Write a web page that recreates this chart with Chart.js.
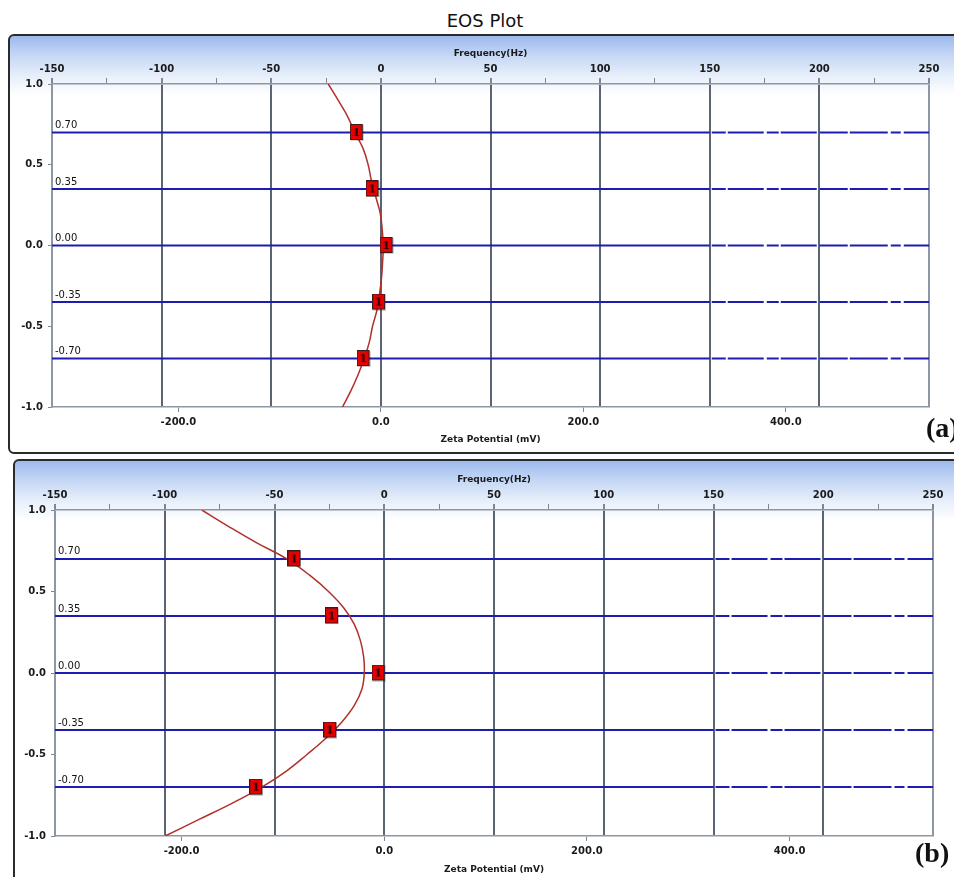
<!DOCTYPE html>
<html>
<head>
<meta charset="utf-8">
<script src="https://cdn.jsdelivr.net/npm/chart.js@4.4.0/dist/chart.umd.min.js"></script>
<style>
  html, body { margin: 0; padding: 0; background: #fff; }
  body { width: 954px; height: 877px; overflow: hidden; position: relative; font-family: "DejaVu Sans", Verdana, sans-serif; }
  .panel { position: absolute; box-sizing: border-box; border: 2px solid #2b2b2b; border-radius: 6px;
           background: linear-gradient(to bottom, #9cbaee 0px, #c6d8f5 20px, #eaf1fb 42px, #ffffff 60px); }
  #panelA { left: 8px; top: 34px; width: 970px; height: 420px; }
  #panelB { left: 13px; top: 459px; width: 970px; height: 440px; }
  canvas { position: absolute; left: 0; }
  #chartA { top: 0; }
  #chartB { top: 456px; }
  #title { position: absolute; top: 10px; left: 0; width: 970px; text-align: center; font-size: 18px; color: #111; }
  .tag { position: absolute; font-family: "Liberation Serif", "Times New Roman", serif; font-weight: bold;
         font-size: 28px; line-height: 28px; color: #111; white-space: nowrap; }
</style>
</head>
<body>
<div class="panel" id="panelA"></div>
<div class="panel" id="panelB"></div>
<div id="title">EOS Plot</div>
<canvas id="chartA" width="954" height="456"></canvas>
<canvas id="chartB" width="954" height="421"></canvas>
<div class="tag" style="left:926px; top:414px;">(a)</div>
<div class="tag" style="left:915px; top:839px;">(b)</div>
<script>
// Frequency axis (top) and the matching zeta-potential axis (bottom)
const FREQ_MIN = -150;
const FREQ_MAX = 250;
const FREQ_STEP = 25;
const FREQ_MAJOR = 50;
const MV_PER_HZ = 2.166;
const ZETA_TICKS = [-200, 0, 200, 400];
const DEPTH_MIN = -1;
const DEPTH_MAX = 1;
const DEPTH_STEP = 0.5;
// beyond this frequency the reference lines are drawn broken
const DASH_FROM_HZ = 150;
const BROKEN_PATTERN = [0, 2, 14, 2, 36, 3, 12, 2, 36, 3, 28, 2, 38, 3, 10, 3, 40];

// Measurement levels (horizontal reference lines)
const LEVELS = [0.70, 0.35, 0.00, -0.35, -0.70];

// Measured points, one per level
const MARKS_A_HZ = [-11.0, -3.8, 2.6, -0.8, -7.9];
const MARKS_B_HZ = [-40.9, -23.8, -2.6, -24.6, -58.3];

// Fitted profile, sampled along the depth axis
const CURVE_DEPTH = [1.0, 0.9, 0.8, 0.7, 0.6, 0.5, 0.4, 0.3, 0.2, 0.1, 0.0,
                     -0.1, -0.2, -0.3, -0.4, -0.5, -0.6, -0.7, -0.8, -0.9, -1.0];
const CURVE_A_HZ = [-24.0, -19.5, -15.2, -11.9, -8.1, -5.8, -4.3, -2.3, -0.3, 0.6, 1.1,
                    0.8, 0.3, -0.6, -1.8, -3.8, -5.3, -7.6, -10.4, -13.7, -17.5];
const CURVE_B_HZ = [-83.1, -71.0, -58.3, -44.4, -34.0, -25.4, -18.5, -13.7, -10.9, -9.4, -9.1,
                    -10.2, -13.7, -19.3, -26.6, -35.2, -44.4, -55.8, -69.4, -84.6, -99.8];

const EDGE = '#8d97a3';
const GRID = '#5a6472';
const TICK_MARK = '#7d8794';
const TEXT = '#1a1a1a';
const TICK_FONT = { family: '"DejaVu Sans", Verdana, sans-serif', size: 10, weight: 'bold' };
const AXIS_TITLE_FONT = { family: '"DejaVu Sans", Verdana, sans-serif', size: 9, weight: 'bold' };

// red square point marker labelled "1"
function markerImage() {
  const c = document.createElement('canvas');
  c.width = 14; c.height = 17;
  const g = c.getContext('2d');
  g.fillStyle = 'rgba(0,0,0,0.18)';
  g.fillRect(1, 1, 13, 16);
  g.fillStyle = '#e80000';
  g.fillRect(0.5, 0.5, 12, 15);
  g.strokeStyle = '#3a1a1a';
  g.lineWidth = 1;
  g.strokeRect(0.5, 0.5, 12, 15);
  g.fillStyle = '#1a0000';
  g.font = 'bold 11px "DejaVu Serif", "Liberation Serif", serif';
  g.textAlign = 'center';
  g.textBaseline = 'middle';
  g.fillText('1', 6.5, 9);
  return c;
}
const MARK = markerImage();

// text labels sitting above each reference line
const levelLabels = {
  id: 'levelLabels',
  afterDatasetsDraw(chart) {
    const { ctx, chartArea, scales } = chart;
    ctx.save();
    ctx.font = '10px "DejaVu Sans", Verdana, sans-serif';
    ctx.fillStyle = '#111';
    ctx.textAlign = 'left';
    ctx.textBaseline = 'bottom';
    LEVELS.forEach(v => {
      ctx.fillText(v.toFixed(2), chartArea.left + 3, scales.y.getPixelForValue(v) - 2);
    });
    ctx.restore();
  }
};

function isMajor(v) { return Math.abs(v % FREQ_MAJOR) < 1e-9; }
function isEdge(v) { return v === FREQ_MIN || v === FREQ_MAX; }

function build(id, curveHz, marksHz, g) {
  const datasets = [
    {
      label: 'measured',
      data: marksHz.map((x, i) => ({ x, y: LEVELS[i] })),
      pointStyle: MARK,
      pointRadius: 8,
      order: 0
    },
    {
      label: 'fit',
      data: curveHz.map((x, i) => ({ x, y: CURVE_DEPTH[i] })),
      showLine: true,
      pointRadius: 0,
      borderColor: '#b0302a',
      borderWidth: 1.5,
      tension: 0.4,
      order: 1
    }
  ];
  LEVELS.forEach(v => {
    datasets.push({
      label: 'level ' + v.toFixed(2),
      data: [{ x: FREQ_MIN, y: v }, { x: DASH_FROM_HZ, y: v }, { x: FREQ_MAX, y: v }],
      showLine: true,
      pointRadius: 0,
      borderColor: '#1c1cb2',
      borderWidth: 2,
      order: 2,
      segment: { borderDash: s => (s.p0.parsed.x >= DASH_FROM_HZ ? BROKEN_PATTERN : undefined) }
    });
  });

  return new Chart(document.getElementById(id), {
    type: 'scatter',
    data: { datasets },
    plugins: [levelLabels],
    options: {
      responsive: false,
      animation: false,
      events: [],
      layout: { padding: { left: 0, right: g.right, top: g.top, bottom: g.bottom } },
      plugins: { legend: { display: false }, tooltip: { enabled: false }, title: { display: false } },
      scales: {
        x: {
          type: 'linear',
          position: 'top',
          min: FREQ_MIN,
          max: FREQ_MAX,
          ticks: {
            stepSize: FREQ_STEP, autoSkip: false, maxRotation: 0, padding: 3,
            color: TEXT, font: TICK_FONT,
            callback: v => (isMajor(v) ? String(v) : '')
          },
          grid: {
            drawOnChartArea: true,
            tickLength: 6,
            tickColor: TICK_MARK,
            color: c => {
              const v = c.tick ? c.tick.value : NaN;
              if (!isMajor(v)) return 'rgba(0,0,0,0)';
              return isEdge(v) ? EDGE : GRID;
            },
            lineWidth: c => (c.tick && isMajor(c.tick.value) ? 2 : 1)
          },
          border: { display: true, color: EDGE, width: 1.5 },
          title: { display: true, text: 'Frequency(Hz)', color: TEXT, font: AXIS_TITLE_FONT, padding: { top: 4, bottom: 0 } },
          afterFit: s => { s.height = g.topAxis; }
        },
        zeta: {
          type: 'linear',
          axis: 'x',
          position: 'bottom',
          min: FREQ_MIN * MV_PER_HZ,
          max: FREQ_MAX * MV_PER_HZ,
          afterBuildTicks: s => { s.ticks = ZETA_TICKS.map(v => ({ value: v })); },
          ticks: { autoSkip: false, maxRotation: 0, padding: 4, color: TEXT, font: TICK_FONT, callback: v => Number(v).toFixed(1) },
          grid: { drawOnChartArea: false, color: TICK_MARK, tickLength: 5 },
          border: { display: true, color: EDGE, width: 1.5 },
          title: { display: true, text: 'Zeta Potential (mV)', color: TEXT, font: AXIS_TITLE_FONT, padding: { top: 0, bottom: 2 } },
          afterFit: s => { s.height = g.bottomAxis; }
        },
        y: {
          type: 'linear',
          min: DEPTH_MIN,
          max: DEPTH_MAX,
          ticks: { stepSize: DEPTH_STEP, padding: 5, color: TEXT, font: TICK_FONT, callback: v => Number(v).toFixed(1) },
          grid: { drawOnChartArea: false, color: TICK_MARK, tickLength: 4 },
          border: { display: true, color: EDGE, width: 1.5 },
          afterFit: s => { s.width = g.left; }
        }
      }
    }
  });
}

build('chartA', CURVE_A_HZ, MARKS_A_HZ, { top: 44, topAxis: 40, bottom: 9, bottomAxis: 40, left: 52, right: 25 });
build('chartB', CURVE_B_HZ, MARKS_B_HZ, { top: 14, topAxis: 40, bottom: 0, bottomAxis: 41, left: 55, right: 21 });
</script>
</body>
</html>
